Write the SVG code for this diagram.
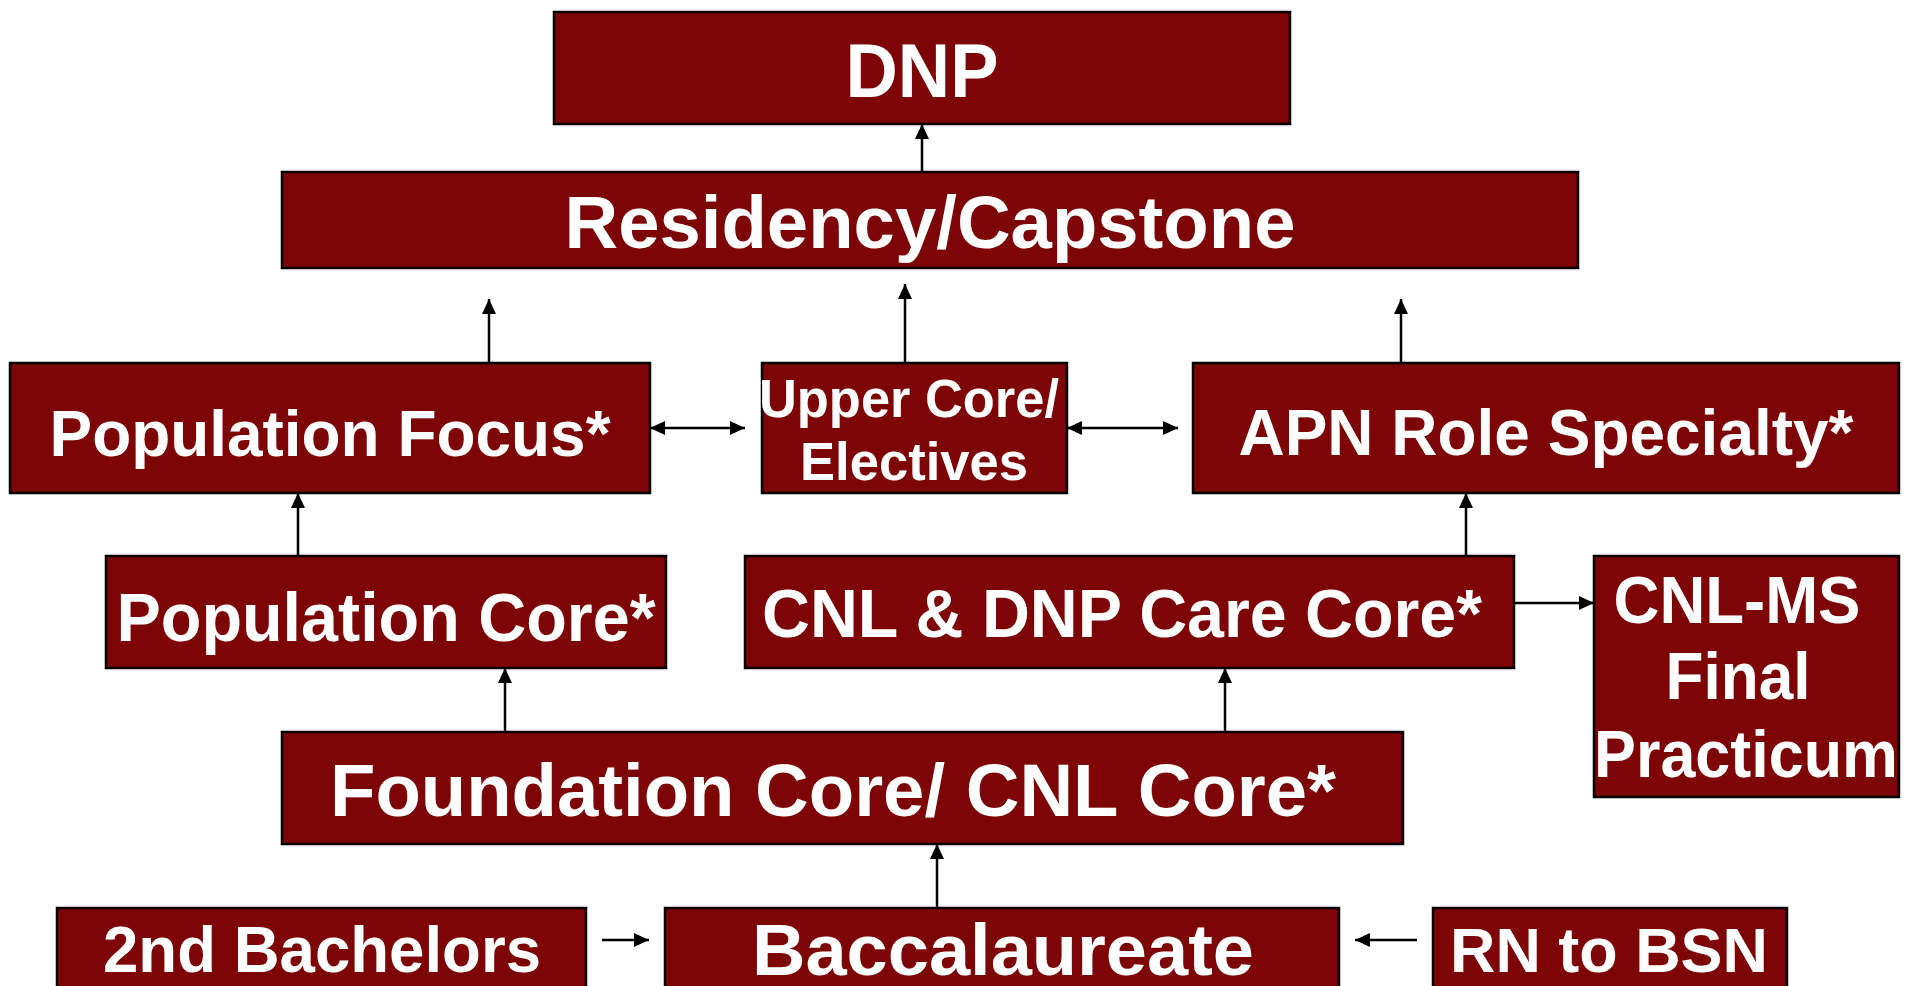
<svg xmlns="http://www.w3.org/2000/svg" width="1912" height="986" viewBox="0 0 1912 986">
<defs>
<marker id="ah" markerWidth="15" markerHeight="14" refX="15" refY="7" orient="auto-start-reverse" markerUnits="userSpaceOnUse" viewBox="0 0 15 14">
<path d="M0,0 L15,7 L0,14 Z" fill="#000"/>
</marker>
<style>
.box{fill:#7d0505;stroke:#000;stroke-width:2.5}
.t{fill:#fff;font-family:"Liberation Sans",Arial,sans-serif;font-weight:bold;text-anchor:middle}
.c{stroke:#000;stroke-width:2.5;fill:none;marker-end:url(#ah)}
.cb{stroke:#000;stroke-width:2.5;fill:none;marker-end:url(#ah);marker-start:url(#ah)}
</style>
</defs>
<rect width="1912" height="986" fill="#fff"/>
<g id="connectors">
<line class="c" x1="922" y1="172" x2="922" y2="124"/>
<line class="c" x1="489" y1="363" x2="489" y2="299"/>
<line class="c" x1="905" y1="363" x2="905" y2="284"/>
<line class="c" x1="1401" y1="363" x2="1401" y2="299"/>
<line class="cb" x1="650" y1="428" x2="745" y2="428"/>
<line class="cb" x1="1067" y1="428" x2="1178" y2="428"/>
<line class="c" x1="298" y1="556" x2="298" y2="493"/>
<line class="c" x1="1466" y1="556" x2="1466" y2="493"/>
<line class="c" x1="1514" y1="603" x2="1594" y2="603"/>
<line class="c" x1="505" y1="732" x2="505" y2="668"/>
<line class="c" x1="1225" y1="732" x2="1225" y2="668"/>
<line class="c" x1="937" y1="908" x2="937" y2="844"/>
<line class="c" x1="602" y1="940" x2="649" y2="940"/>
<line class="c" x1="1417" y1="940" x2="1355" y2="940"/>
</g>
<g id="dnp">
<rect class="box" x="554" y="12" width="736" height="112"/>
<text class="t" x="922" y="97" font-size="76" textLength="153" lengthAdjust="spacingAndGlyphs">DNP</text>
</g>
<g id="residency">
<rect class="box" x="282" y="172" width="1296" height="96"/>
<text class="t" x="930" y="248" font-size="74" textLength="731" lengthAdjust="spacingAndGlyphs">Residency/Capstone</text>
</g>
<g id="population-focus">
<rect class="box" x="10" y="363" width="640" height="130"/>
<text class="t" x="330" y="456" font-size="65" textLength="561" lengthAdjust="spacingAndGlyphs">Population Focus*</text>
</g>
<g id="upper-core">
<rect class="box" x="762" y="363" width="305" height="130"/>
<text class="t" x="909" y="417" font-size="54" textLength="300" lengthAdjust="spacingAndGlyphs">Upper Core/</text>
<text class="t" x="914" y="480" font-size="54" textLength="228" lengthAdjust="spacingAndGlyphs">Electives</text>
</g>
<g id="apn">
<rect class="box" x="1193" y="363" width="706" height="130"/>
<text class="t" x="1546" y="455" font-size="64" textLength="615" lengthAdjust="spacingAndGlyphs">APN Role Specialty*</text>
</g>
<g id="population-core">
<rect class="box" x="106" y="556" width="560" height="112"/>
<text class="t" x="386" y="641" font-size="68" textLength="539" lengthAdjust="spacingAndGlyphs">Population Core*</text>
</g>
<g id="cnl-dnp">
<rect class="box" x="745" y="556" width="769" height="112"/>
<text class="t" x="1122" y="637" font-size="68" textLength="720" lengthAdjust="spacingAndGlyphs">CNL &amp; DNP Care Core*</text>
</g>
<g id="cnl-ms">
<rect class="box" x="1594" y="556" width="305" height="241"/>
<text class="t" x="1737" y="623" font-size="66" textLength="247" lengthAdjust="spacingAndGlyphs">CNL-MS</text>
<text class="t" x="1738" y="699" font-size="66" textLength="145" lengthAdjust="spacingAndGlyphs">Final</text>
<text class="t" x="1746" y="777" font-size="66" textLength="304" lengthAdjust="spacingAndGlyphs">Practicum</text>
</g>
<g id="foundation">
<rect class="box" x="282" y="732" width="1121" height="112"/>
<text class="t" x="833" y="816" font-size="75" textLength="1006" lengthAdjust="spacingAndGlyphs">Foundation Core/ CNL Core*</text>
</g>
<g id="second-bachelors">
<rect class="box" x="57" y="908" width="529" height="90"/>
<text class="t" x="322" y="972" font-size="64" textLength="438" lengthAdjust="spacingAndGlyphs">2nd Bachelors</text>
</g>
<g id="baccalaureate">
<rect class="box" x="665" y="908" width="674" height="90"/>
<text class="t" x="1003" y="975" font-size="72" textLength="502" lengthAdjust="spacingAndGlyphs">Baccalaureate</text>
</g>
<g id="rn-bsn">
<rect class="box" x="1433" y="908" width="354" height="90"/>
<text class="t" x="1609" y="972" font-size="63" textLength="318" lengthAdjust="spacingAndGlyphs">RN to BSN</text>
</g>
</svg>
